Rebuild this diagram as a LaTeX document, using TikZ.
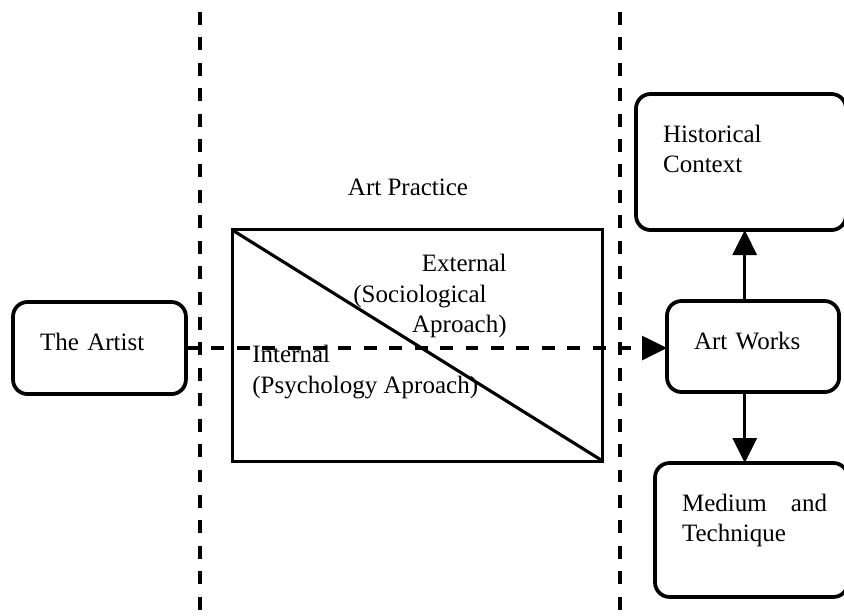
\documentclass[tikz,border=0pt]{standalone}
\usepackage{fontspec}
\setmainfont{Liberation Serif}
\usetikzlibrary{positioning, arrows.meta}

\begin{document}
\begin{tikzpicture}[x=0.48pt, y=-0.48pt,
    every node/.style={font=\fontsize{12pt}{14.5pt}\selectfont},
    rbox/.style={draw, rounded corners=7pt, line width=1.8pt, outer sep=0pt,
        anchor=north west, align=left, inner xsep=13pt, inner ysep=0pt,
        text height=23.3pt},
    divider/.style={line width=1.5pt, dash pattern=on 6.2pt off 6pt},
    arr/.style={line width=1.5pt, -{Triangle[length=12pt, width=11.5pt]}}]
                \useasboundingbox (0,0) rectangle (844,616);

                % Draw the two dividing lines
                \coordinate (lt) at (200,12);
                \coordinate (lb) at (200,616);
                \coordinate (rt) at (620,12);
                \coordinate (rb) at (620,616);
                \draw[divider] (lt) -- (lb);
                \draw[divider] (rt) -- (rb);

                % Draw the boxes
                \node[rbox, text width=57pt, text depth=20.9pt] (artist) at (13,302) {The Artist};
                \node[rbox, text width=56.6pt, text depth=20.4pt] (works) at (667,301) {Art Works};
                \node[rbox, text width=74.8pt, text depth=42pt] (history) at (636,94) {Historical\\Context};
                \node[rbox, text width=66.6pt, text depth=41pt] (medium) at (655,463) {\makebox[69.6pt][l]{Medium\hfill and}\\Technique};

                % Draw the art practice rectangle
                \node at (408,187) (practicelabel) {Art Practice};
                \node[draw, line width=1.5pt, outer sep=0pt, inner sep=0pt,
                      minimum width=178pt, minimum height=111pt] (practice) at (417.5,345.5) {};
                \draw[line width=1.5pt] (practice.north west) -- (practice.south east);
                \node[anchor=east, align=right, inner sep=0pt] (external) at (507,296)
                    {External\\(Sociological\kern9.6pt\\Aproach)};
                \node[anchor=west, align=left, inner sep=0pt] (internal) at (252,372)
                    {Internal\\(Psychology Aproach)};

                % Draw the arrows
                \draw[divider, arr] (artist.east) -- (artist.east -| works.west);
                \draw[arr] ([xshift=-4pt]works.north) -- ([xshift=-4pt]works.north |- history.south);
                \draw[arr] ([xshift=-4pt]works.south) -- ([xshift=-4pt]works.south |- medium.north);
    \end{tikzpicture}
\end{document}
